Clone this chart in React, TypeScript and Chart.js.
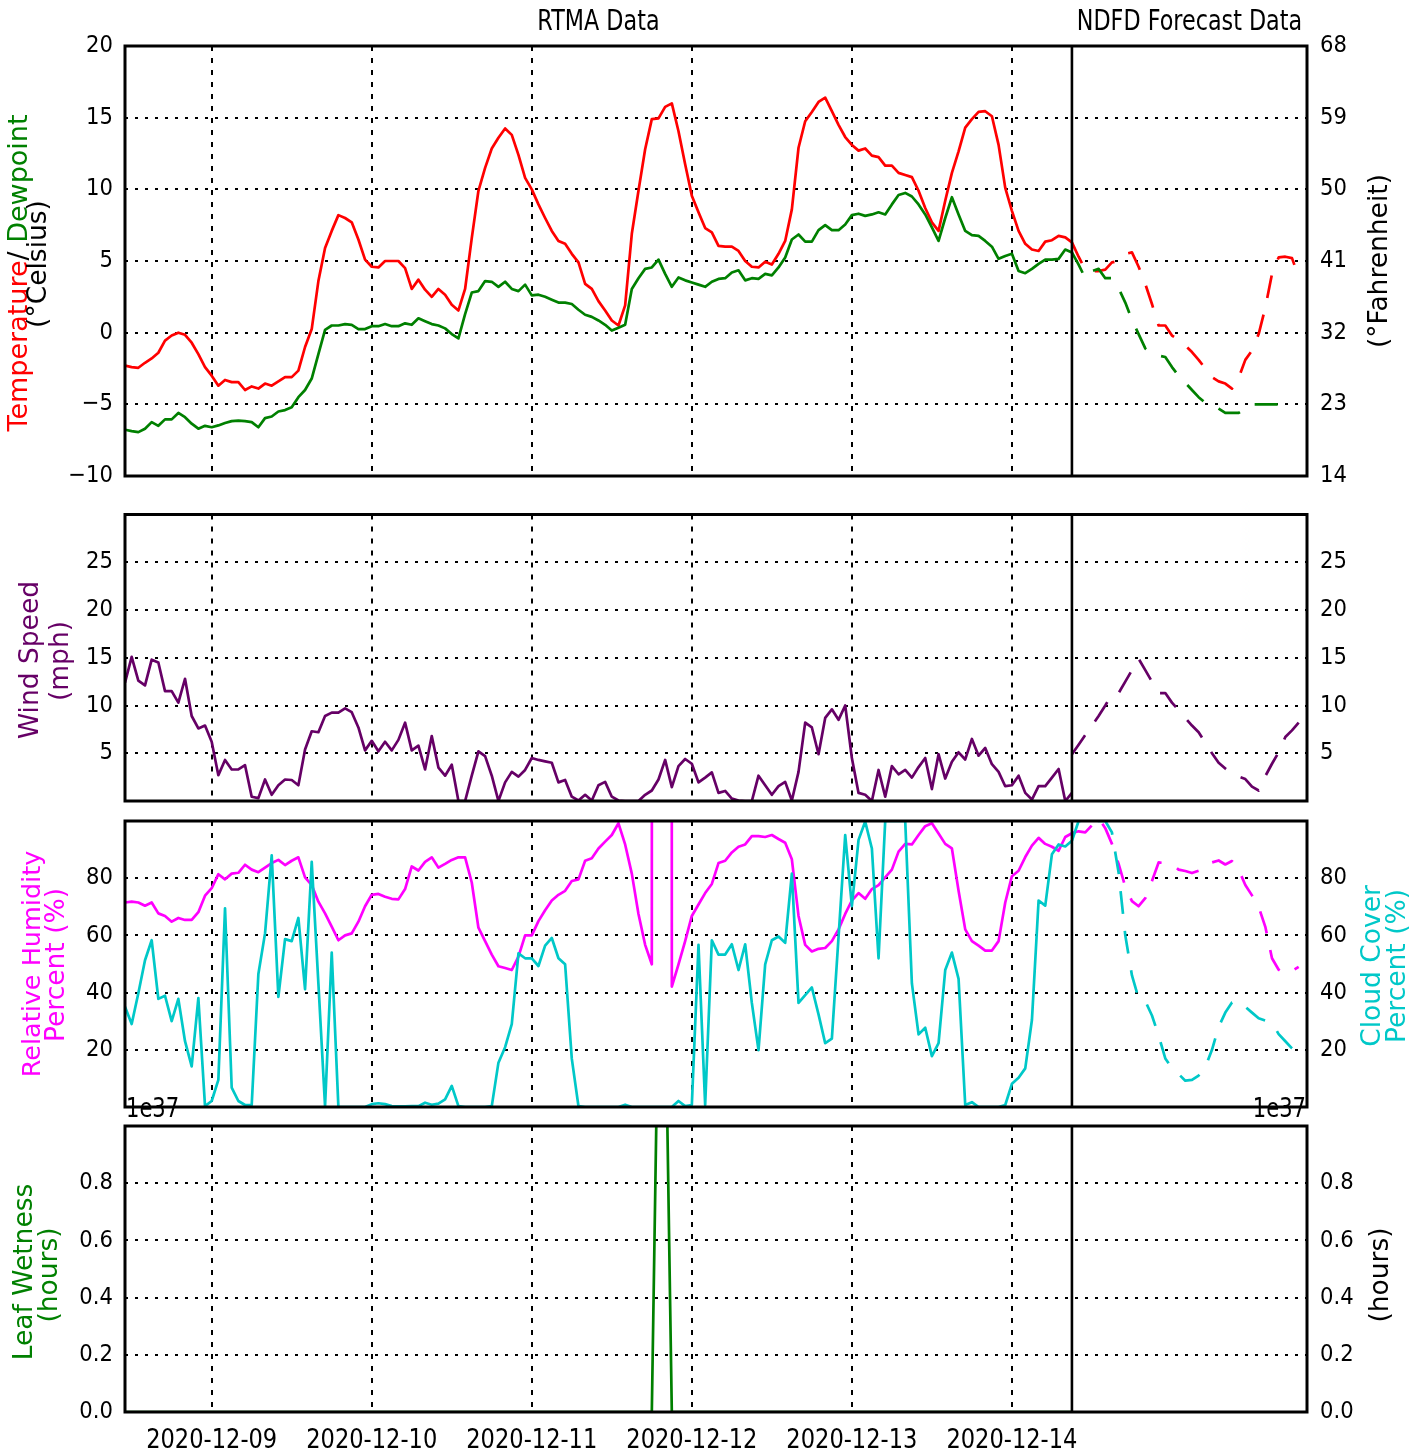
import { useEffect, useRef } from 'react';
import { Chart, registerables } from 'chart.js';

Chart.register(...registerables);

// ---------------- data ----------------
// x values are hours after 2020-12-08 00:00
const RTMA_START_HOUR = 11;
const FORECAST_START_HOUR = 153;
const NOW_HOUR = 153;
const X_MIN_HOUR = 11;
const X_MAX_HOUR = 188.25;
const DAY_TICK_HOURS = [24, 48, 72, 96, 120, 144];
const DAY_TICK_LABELS = ['2020-12-09', '2020-12-10', '2020-12-11', '2020-12-12', '2020-12-13', '2020-12-14'];
const MISSING = 1e5;

const TEMP_TICKS_C = [-10, -5, 0, 5, 10, 15, 20];
const TEMP_TICKS_F = [14, 23, 32, 41, 50, 59, 68];
const WIND_TICKS = [5, 10, 15, 20, 25];
const PERCENT_TICKS = [20, 40, 60, 80];
const LEAF_TICKS = [0, 0.2, 0.4, 0.6, 0.8];

// RTMA hourly, 11h .. 153h
const TEMP_C = [
  -2.3, -2.4, -2.45, -2.1, -1.8, -1.4, -0.55, -0.2, 0.0, -0.15,
  -0.7, -1.5, -2.4, -3.0, -3.7, -3.3, -3.45, -3.45, -4.0, -3.75,
  -3.9, -3.55, -3.7, -3.4, -3.1, -3.1, -2.65, -1.0, 0.25, 3.6,
  5.9, 7.1, 8.2, 8.0, 7.7, 6.5, 5.1, 4.6, 4.55, 5.0,
  5.0, 5.0, 4.5, 3.05, 3.7, 3.0, 2.5, 3.05, 2.65, 1.95,
  1.55, 3.05, 6.6, 9.9, 11.5, 12.85, 13.6, 14.25, 13.8, 12.4,
  10.8, 10.0, 8.95, 8.0, 7.1, 6.4, 6.2, 5.5, 4.9, 3.4,
  3.05, 2.2, 1.55, 0.85, 0.5, 1.9, 6.9, 9.9, 12.8, 14.9,
  14.95, 15.75, 16.0, 14.05, 11.75, 9.55, 8.4, 7.3, 7.0, 6.05,
  6.0, 6.0, 5.7, 5.0, 4.6, 4.55, 4.95, 4.75, 5.5, 6.4,
  8.6, 12.9, 14.75, 15.4, 16.1, 16.4, 15.45, 14.5, 13.65, 13.1,
  12.7, 12.85, 12.35, 12.25, 11.65, 11.65, 11.15, 11.0, 10.85, 9.9,
  8.7, 7.7, 7.1, 9.2, 11.15, 12.65, 14.3, 14.9, 15.4, 15.45,
  15.1, 13.1, 10.1, 8.5, 7.1, 6.2, 5.8, 5.7, 6.35, 6.45,
  6.75, 6.65, 6.3,
];
const DEWPOINT_C = [
  -6.77, -6.87, -6.94, -6.7, -6.24, -6.5, -6.05, -6.05, -5.6, -5.9,
  -6.35, -6.7, -6.5, -6.6, -6.47, -6.3, -6.17, -6.13, -6.17, -6.24,
  -6.6, -5.96, -5.85, -5.5, -5.4, -5.2, -4.5, -4.0, -3.2, -1.5,
  0.2, 0.5, 0.5, 0.6, 0.55, 0.25, 0.25, 0.45, 0.45, 0.6,
  0.45, 0.45, 0.65, 0.55, 1.0, 0.8, 0.6, 0.5, 0.3, -0.1,
  -0.4, 1.3, 2.8, 2.9, 3.6, 3.55, 3.2, 3.55, 3.05, 2.9,
  3.35, 2.6, 2.65, 2.5, 2.3, 2.1, 2.1, 2.0, 1.6, 1.25,
  1.1, 0.85, 0.55, 0.15, 0.35, 0.55, 3.05, 3.8, 4.45, 4.55,
  5.1, 4.1, 3.2, 3.85, 3.65, 3.5, 3.35, 3.2, 3.55, 3.75,
  3.8, 4.2, 4.35, 3.65, 3.8, 3.75, 4.1, 4.0, 4.55, 5.25,
  6.5, 6.85, 6.35, 6.35, 7.15, 7.5, 7.15, 7.15, 7.55, 8.2,
  8.3, 8.15, 8.25, 8.4, 8.25, 8.95, 9.6, 9.75, 9.5, 8.95,
  8.25, 7.35, 6.4, 8.0, 9.45, 8.25, 7.1, 6.8, 6.75, 6.4,
  6.0, 5.15, 5.35, 5.5, 4.3, 4.15, 4.45, 4.8, 5.1, 5.1,
  5.15, 5.8, 5.6,
];
const WIND_MPH = [
  12.4, 15.1, 12.6, 12.1, 14.8, 14.5, 11.5, 11.5, 10.3, 12.8,
  8.9, 7.6, 7.9, 6.2, 2.7, 4.3, 3.3, 3.3, 3.75, 0.44,
  0.3, 2.25, 0.65, 1.65, 2.25, 2.2, 1.65, 5.4, 7.3, 7.2,
  8.9, 9.25, 9.25, 9.7, 9.3, 7.7, 5.3, 6.3, 5.2, 6.2,
  5.3, 6.4, 8.2, 5.3, 5.8, 3.3, 6.8, 3.5, 2.65, 3.8,
  0, 0, 2.65, 5.2, 4.7, 2.65, 0, 1.95, 3.05, 2.55,
  3.25, 4.5, 4.3, 4.15, 4.0, 1.95, 2.2, 0.45, 0.05, 0.65,
  0.05, 1.65, 2.0, 0.45, 0.05, 0, 0, 0, 0.65, 1.1,
  2.25, 4.3, 1.45, 3.65, 4.4, 3.9, 1.95, 2.45, 3.0, 0.85,
  1.05, 0.25, 0.05, 0, 0, 2.65, 1.65, 0.65, 1.55, 2.0,
  0.05, 3.05, 8.2, 7.7, 4.9, 8.7, 9.6, 8.5, 10.0, 4.5,
  0.85, 0.65, 0, 3.25, 0.45, 3.65, 2.8, 3.25, 2.45, 3.55,
  4.5, 1.25, 4.9, 2.35, 4.1, 5.1, 4.35, 6.5, 4.75, 5.55,
  3.85, 3.05, 1.55, 1.65, 2.65, 0.85, 0.15, 1.55, 1.55, 2.45,
  3.35, 0, 0.85,
];
const RH_PCT = [
  71.5, 71.8, 71.5, 70.4, 71.5, 67.7, 66.8, 64.8, 66.1, 65.4,
  65.4, 68.1, 73.9, 76.5, 81.4, 79.6, 81.6, 81.9, 84.7, 83.0,
  82.1, 83.7, 85.3, 86.4, 84.6, 86.1, 87.3, 80.3, 77.6, 71.8,
  67.7, 63.1, 58.3, 60.0, 60.7, 64.8, 70.2, 74.2, 74.5, 73.5,
  72.8, 72.6, 76.2, 84.1, 82.7, 85.7, 87.3, 83.7, 85.0, 86.4,
  87.3, 87.3, 78.5, 62.7, 58.0, 53.3, 49.2, 48.6, 47.9, 52.6,
  60.0, 60.0, 65.0, 68.8, 72.2, 74.2, 75.6, 79.0, 79.6, 86.1,
  87.0, 90.4, 92.8, 95.1, 99.2, 91.8, 81.6, 67.5, 56.7, 49.9,
  MISSING, MISSING, 42.1, 49.9, 58.0, 66.8, 70.8, 74.8, 78.0, 85.3,
  86.1, 89.0, 91.0, 91.8, 94.7, 94.7, 94.4, 95.1, 93.7, 92.4,
  86.6, 66.8, 56.7, 54.4, 55.3, 55.6, 58.0, 62.1, 67.5, 72.2,
  74.8, 72.8, 76.2, 77.6, 80.3, 83.0, 89.3, 92.0, 91.8, 95.1,
  98.2, 99.2, 95.6, 92.0, 90.4, 75.6, 62.1, 58.0, 56.4, 54.7,
  54.7, 58.0, 71.5, 80.7, 82.6, 87.4, 91.4, 94.1, 92.0, 91.0,
  89.6, 94.4, 95.7,
];
const CLOUD_PCT = [
  35.1, 29.0, 39.8, 51.3, 58.3, 37.8, 38.9, 30.0, 37.8, 23.0,
  14.2, 38.1, 0.3, 2.1, 9.5, 69.5, 6.8, 2.1, 0.7, 0.7,
  46.5, 60.7, 88.0, 38.5, 58.7, 58.0, 66.1, 41.2, 85.7, 43.2,
  0.3, 54.0, 0, 0, 0, 0, 0, 1.0, 1.3, 1.0,
  0.3, 0.2, 0.2, 0.3, 0.3, 1.5, 0.8, 1.2, 2.7, 7.4,
  0.3, 0, 0, 0, 0, 0.3, 15.5, 20.9, 29.0, 53.7,
  52.0, 52.0, 49.3, 56.4, 59.1, 52.0, 49.9, 16.9, 0.3, 0,
  0, 0, 0, 0, 0, 0.8, 0, 0, 0, 0,
  0, 0, 0, 2.1, 0.3, 0.7, 56.7, 0.7, 58.3, 53.3,
  53.3, 56.9, 47.9, 56.9, 36.4, 19.9, 49.9, 58.3, 59.6, 57.4,
  81.6, 36.4, 39.1, 41.8, 32.4, 22.3, 23.9, 59.4, 95.1, 70.2,
  93.4, 99.8, 90.4, 52.0, 100, 100, 100, 100, 43.2, 25.4,
  27.7, 17.8, 22.3, 47.9, 54.0, 44.8, 0.7, 1.7, 0, 0,
  0, 0, 0.7, 8.1, 10.2, 13.5, 30.4, 72.2, 70.4, 88.4,
  91.8, 91.1, 93.1,
];
const LEAF_WETNESS_H = [
  0, 0, 0, 0, 0, 0, 0, 0, 0, 0,
  0, 0, 0, 0, 0, 0, 0, 0, 0, 0,
  0, 0, 0, 0, 0, 0, 0, 0, 0, 0,
  0, 0, 0, 0, 0, 0, 0, 0, 0, 0,
  0, 0, 0, 0, 0, 0, 0, 0, 0, 0,
  0, 0, 0, 0, 0, 0, 0, 0, 0, 0,
  0, 0, 0, 0, 0, 0, 0, 0, 0, 0,
  0, 0, 0, 0, 0, 0, 0, 0, 0, 0,
  1.5, 1.5, 0, 0, 0, 0, 0, 0, 0, 0,
  0, 0, 0, 0, 0, 0, 0, 0, 0, 0,
  0, 0, 0, 0, 0, 0, 0, 0, 0, 0,
  0, 0, 0, 0, 0, 0, 0, 0, 0, 0,
  0, 0, 0, 0, 0, 0, 0, 0, 0, 0,
  0, 0, 0, 0, 0, 0, 0, 0, 0, 0,
  0, 0, 0,
];

// NDFD forecast, hourly from 153h
const FCST_TEMP_C = [
  6.3, 5.3, 4.4, 4.3, 4.3, 4.4, 4.9, 5.0, 5.5, 5.6,
  4.6, 3.4, 2.0, 0.5, 0.5, -0.2, -0.5, -0.9, -1.35, -1.9,
  -2.5, -3.1, -3.4, -3.55, -3.9, -3.15, -1.9, -1.25, -0.1, 1.75,
  4.1, 5.25, 5.3, 5.2, 3.9,
];
const FCST_DEWPOINT_C = [
  5.6, 4.75, 3.8, 4.3, 4.45, 3.8, 3.8, 3.1, 2.1, 0.9,
  -0.1, -1.1, -1.5, -1.6, -1.7, -2.4, -3.0, -3.5, -4.0, -4.5,
  -4.9, -5.0, -5.3, -5.6, -5.6, -5.6, -5.3, -5.0, -5.0, -5.0,
  -5.0, -5.0, -5.0, -5.0,
];
const FCST_WIND_MPH = [
  4.9, 5.9, 6.9, 7.9, 8.9, 10.0, 11.2, 11.3, 12.5, 13.7,
  14.9, 13.7, 12.5, 11.3, 11.3, 10.3, 9.5, 8.7, 7.9, 7.2,
  6.1, 5.0, 4.0, 3.4, 2.8, 2.55, 2.3, 1.5, 1.1, 2.6,
  3.9, 5.1, 6.7, 7.4, 8.2,
];
const FCST_RH_PCT = [
  95.8, 96.4, 96.0, 98.5, 101, 97.5, 92, 85, 77, 72,
  70.2, 73, 79, 85.5, 85.3, 85, 83, 82.5, 81.8, 82.6,
  85.2, 85.5, 86.2, 84.8, 86, 83, 77.6, 74, 70, 63,
  52, 48, 46.5, 47.5, 49,
];
const FCST_CLOUD_PCT = [
  93.1, 100, 100, 100, 100, 100, 96, 82, 60, 46,
  38, 37, 32, 25, 17, 13.5, 11.5, 9.2, 9.5, 11,
  14, 20, 28, 33, 36.5, 37.1, 35, 33, 31, 30.2,
  29.5, 25.5, 23, 20.5, 18.5,
];

// ---------------- styling / layout ----------------
const W = 1424;
const H = 1454;
const LEFT_W = 125;
const RIGHT_W = W - 1307;
const RED = '#ff0000';
const GREEN = '#008000';
const PURPLE = '#660066';
const MAGENTA = '#ff00ff';
const CYAN = '#00c8c8';
const FCST_DASH = [23, 17];
const LINE_W = 2.7;
const FONT = '"DejaVu Sans"';
const TICK = { size: 23.5, sx: 0.9 };
const XTICK = { size: 27, sx: 0.835 };
const TITLE = { size: 27.5, sx: 0.81 };
const LABEL_SIZE = 26.5;

type Pt = { x: number; y: number };
const series = (start: number, vals: number[]): Pt[] => vals.map((v, i) => ({ x: start + i, y: v }));
const fmtSigned = (v: number) => (v < 0 ? '\u2212' + Math.abs(v) : String(v));

function txt(ctx: CanvasRenderingContext2D, s: string, x: number, y: number, o: any) {
  ctx.save();
  ctx.translate(x, y);
  if (o.rot) ctx.rotate(o.rot);
  ctx.scale(o.sx ?? 1, 1);
  ctx.font = `${o.size}px ${FONT}`;
  ctx.fillStyle = o.color ?? '#000';
  ctx.textAlign = o.align ?? 'left';
  ctx.textBaseline = o.base ?? 'alphabetic';
  ctx.fillText(s, 0, 0);
  ctx.restore();
}

function vrich(ctx: CanvasRenderingContext2D, parts: [string, string][], cx: number, cy: number, size: number) {
  ctx.save();
  ctx.translate(cx, cy);
  ctx.rotate(-Math.PI / 2);
  ctx.font = `${size}px ${FONT}`;
  ctx.textBaseline = 'middle';
  ctx.textAlign = 'left';
  const total = parts.reduce((a, [t]) => a + ctx.measureText(t).width, 0);
  let x = -total / 2;
  for (const [t, c] of parts) {
    ctx.fillStyle = c;
    ctx.fillText(t, x, 0);
    x += ctx.measureText(t).width;
  }
  ctx.restore();
}

function vtxt(ctx: CanvasRenderingContext2D, s: string, cx: number, cy: number, size: number, color: string) {
  vrich(ctx, [[s, color]], cx, cy, size);
}

function yLabels(chart: any, id: string, side: 'left' | 'right', fmt: (v: number) => string) {
  const s = chart.scales[id];
  const a = chart.chartArea;
  const x = side === 'left' ? a.left - 12 : a.right + 13;
  for (const t of s.ticks) {
    txt(chart.ctx, fmt(t.value), x, s.getPixelForValue(t.value), {
      ...TICK,
      align: side === 'left' ? 'right' : 'left',
      base: 'middle',
    });
  }
}

function drawFrame(chart: any) {
  const { ctx, chartArea: a } = chart;
  const sep = chart.scales.x.getPixelForValue(NOW_HOUR);
  ctx.save();
  ctx.strokeStyle = '#000';
  ctx.lineWidth = 2.6;
  ctx.beginPath();
  ctx.moveTo(sep, a.top);
  ctx.lineTo(sep, a.bottom);
  ctx.stroke();
  ctx.lineWidth = 3;
  ctx.strokeRect(a.left, a.top, a.right - a.left, a.bottom - a.top);
  ctx.restore();
}

function xScale() {
  return {
    type: 'linear',
    min: X_MIN_HOUR,
    max: X_MAX_HOUR,
    afterBuildTicks: (s: any) => {
      s.ticks = DAY_TICK_HOURS.map((v) => ({ value: v }));
    },
    afterFit: (s: any) => {
      s.height = 0;
    },
    ticks: { display: false },
    grid: { display: true, color: '#000', lineWidth: 2, drawTicks: false },
    border: { display: false, dash: [5, 7] },
  };
}

function yScale(min: number, max: number, ticks: number[], position: 'left' | 'right', grid: boolean) {
  return {
    type: 'linear',
    position,
    min,
    max,
    afterBuildTicks: (s: any) => {
      s.ticks = ticks.map((v) => ({ value: v }));
    },
    afterFit: (s: any) => {
      s.width = position === 'left' ? LEFT_W : RIGHT_W;
    },
    ticks: { display: false },
    grid: { display: grid, color: '#000', lineWidth: 2, drawTicks: false },
    border: { display: false, dash: [3, 7] },
  };
}

function line(data: Pt[], color: string, dashed: boolean, yAxisID = 'y') {
  return {
    data,
    borderColor: color,
    backgroundColor: color,
    borderWidth: LINE_W,
    borderDash: dashed ? FCST_DASH : [],
    borderJoinStyle: 'round',
    pointRadius: 0,
    tension: 0,
    fill: false,
    yAxisID,
    xAxisID: 'x',
  };
}

function config(top: number, bottom: number, datasets: any[], scales: any, draw: (c: any) => void): any {
  return {
    type: 'line',
    data: { datasets },
    options: {
      responsive: false,
      animation: false,
      events: [],
      layout: { padding: { top, bottom: H - bottom, left: 0, right: 0 } },
      plugins: { legend: { display: false }, tooltip: { enabled: false } },
      scales: { x: xScale(), ...scales },
    },
    plugins: [
      {
        id: 'frameAndText',
        afterDatasetsDraw: (c: any) => drawFrame(c),
        afterDraw: (c: any) => draw(c),
      },
    ],
  };
}

function tempConfig() {
  return config(
    46,
    476,
    [
      line(series(RTMA_START_HOUR, DEWPOINT_C), GREEN, false),
      line(series(RTMA_START_HOUR, TEMP_C), RED, false),
      line(series(FORECAST_START_HOUR, FCST_DEWPOINT_C), GREEN, true),
      line(series(FORECAST_START_HOUR, FCST_TEMP_C), RED, true),
    ],
    {
      y: yScale(-10, 20, TEMP_TICKS_C, 'left', true),
      yF: yScale(14, 68, TEMP_TICKS_F, 'right', false),
    },
    (c) => {
      const ctx = c.ctx;
      const a = c.chartArea;
      yLabels(c, 'y', 'left', fmtSigned);
      yLabels(c, 'yF', 'right', (v) => String(v));
      const sep = c.scales.x.getPixelForValue(NOW_HOUR);
      txt(ctx, 'RTMA Data', (a.left + sep) / 2, 30, { ...TITLE, align: 'center' });
      txt(ctx, 'NDFD Forecast Data', (sep + a.right) / 2, 30, { ...TITLE, align: 'center' });
      vrich(ctx, [['Temperature', RED], ['/ ', '#000'], ['Dewpoint', GREEN]], 20, 273, 27);
      vtxt(ctx, '(\u00b0Celsius)', 39, 264, LABEL_SIZE, '#000');
      vtxt(ctx, '(\u00b0Fahrenheit)', 1380, 261, LABEL_SIZE, '#000');
    },
  );
}

function windConfig() {
  return config(
    514.5,
    801,
    [
      line(series(RTMA_START_HOUR, WIND_MPH), PURPLE, false),
      line(series(FORECAST_START_HOUR, FCST_WIND_MPH), PURPLE, true),
    ],
    {
      y: yScale(0, 30, WIND_TICKS, 'left', true),
      y2: yScale(0, 30, WIND_TICKS, 'right', false),
    },
    (c) => {
      const ctx = c.ctx;
      yLabels(c, 'y', 'left', (v) => String(v));
      yLabels(c, 'y2', 'right', (v) => String(v));
      vtxt(ctx, 'Wind Speed', 31.5, 660, LABEL_SIZE, PURPLE);
      vtxt(ctx, '(mph)', 61, 661, LABEL_SIZE, PURPLE);
    },
  );
}

function humidityConfig() {
  return config(
    821,
    1107,
    [
      line(series(RTMA_START_HOUR, CLOUD_PCT), CYAN, false, 'y2'),
      line(series(RTMA_START_HOUR, RH_PCT), MAGENTA, false, 'y'),
      line(series(FORECAST_START_HOUR, FCST_CLOUD_PCT), CYAN, true, 'y2'),
      line(series(FORECAST_START_HOUR, FCST_RH_PCT), MAGENTA, true, 'y'),
    ],
    {
      y: yScale(0, 100, PERCENT_TICKS, 'left', true),
      y2: yScale(0, 100, PERCENT_TICKS, 'right', false),
    },
    (c) => {
      const ctx = c.ctx;
      yLabels(c, 'y', 'left', (v) => String(v));
      yLabels(c, 'y2', 'right', (v) => String(v));
      vtxt(ctx, 'Relative Humidity', 33, 964, 25.5, MAGENTA);
      vtxt(ctx, 'Percent (%)', 57, 965, LABEL_SIZE, MAGENTA);
      vtxt(ctx, 'Cloud Cover', 1373, 966, LABEL_SIZE, CYAN);
      vtxt(ctx, 'Percent (%)', 1398, 966, LABEL_SIZE, CYAN);
    },
  );
}

function leafConfig() {
  return config(
    1126,
    1412,
    [line(series(RTMA_START_HOUR, LEAF_WETNESS_H), GREEN, false)],
    {
      y: yScale(0, 1, LEAF_TICKS, 'left', true),
      y2: yScale(0, 1, LEAF_TICKS, 'right', false),
    },
    (c) => {
      const ctx = c.ctx;
      const a = c.chartArea;
      yLabels(c, 'y', 'left', (v) => v.toFixed(1));
      yLabels(c, 'y2', 'right', (v) => v.toFixed(1));
      DAY_TICK_HOURS.forEach((h, i) => {
        txt(ctx, DAY_TICK_LABELS[i], c.scales.x.getPixelForValue(h), 1448, { ...XTICK, align: 'center' });
      });
      txt(ctx, '1e37', a.left + 1, 1117, { size: 27, sx: 0.78, align: 'left' });
      txt(ctx, '1e37', a.right - 1, 1117, { size: 27, sx: 0.78, align: 'right' });
      vtxt(ctx, 'Leaf Wetness', 25, 1272, LABEL_SIZE, GREEN);
      vtxt(ctx, '(hours)', 50, 1275, LABEL_SIZE, GREEN);
      vtxt(ctx, '(hours)', 1381, 1275, LABEL_SIZE, '#000');
    },
  );
}

export default function App() {
  const r1 = useRef<HTMLCanvasElement>(null);
  const r2 = useRef<HTMLCanvasElement>(null);
  const r3 = useRef<HTMLCanvasElement>(null);
  const r4 = useRef<HTMLCanvasElement>(null);

  useEffect(() => {
    const charts = [
      new Chart(r1.current as HTMLCanvasElement, tempConfig()),
      new Chart(r2.current as HTMLCanvasElement, windConfig()),
      new Chart(r3.current as HTMLCanvasElement, humidityConfig()),
      new Chart(r4.current as HTMLCanvasElement, leafConfig()),
    ];
    return () => charts.forEach((ch) => ch.destroy());
  }, []);

  const cs: any = { position: 'absolute', left: 0, top: 0, width: W, height: H };
  return (
    <div style={{ position: 'absolute', left: 0, top: 0, width: W, height: H, background: '#fff', overflow: 'hidden' }}>
      <canvas ref={r1} width={W} height={H} style={cs} />
      <canvas ref={r2} width={W} height={H} style={cs} />
      <canvas ref={r3} width={W} height={H} style={cs} />
      <canvas ref={r4} width={W} height={H} style={cs} />
    </div>
  );
}
